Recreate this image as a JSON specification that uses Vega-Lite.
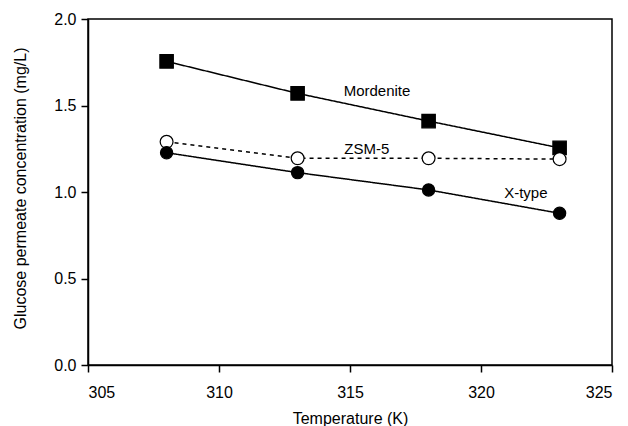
{
  "$schema": "https://vega.github.io/schema/vega-lite/v6.json",
  "width": 524,
  "height": 346,
  "autosize": "none",
  "padding": {"left": 88, "top": 19, "right": 16, "bottom": 61},
  "background": "white",
  "config": {
    "view": {"stroke": "black", "strokeWidth": 1.5},
    "font": "Liberation Sans",
    "axis": {
      "grid": false,
      "domainColor": "black",
      "domainWidth": 1.5,
      "tickColor": "black",
      "tickWidth": 1.5,
      "tickSize": 7,
      "labelFont": "Liberation Sans",
      "labelFontSize": 16,
      "labelColor": "black",
      "titleFont": "Liberation Sans",
      "titleFontSize": 16,
      "titleFontWeight": "normal",
      "titleColor": "black"
    }
  },
  "datasets": {
    "pts": [
      {"series": "Mordenite", "T": 308, "c": 1.755},
      {"series": "Mordenite", "T": 313, "c": 1.57},
      {"series": "Mordenite", "T": 318, "c": 1.41},
      {"series": "Mordenite", "T": 323, "c": 1.255},
      {"series": "ZSM-5", "T": 308, "c": 1.29},
      {"series": "ZSM-5", "T": 313, "c": 1.195},
      {"series": "ZSM-5", "T": 318, "c": 1.195},
      {"series": "ZSM-5", "T": 323, "c": 1.19},
      {"series": "X-type", "T": 308, "c": 1.227},
      {"series": "X-type", "T": 313, "c": 1.112},
      {"series": "X-type", "T": 318, "c": 1.012},
      {"series": "X-type", "T": 323, "c": 0.877}
    ],
    "labels": [
      {"label": "Mordenite", "T": 316.03, "c": 1.584},
      {"label": "ZSM-5", "T": 315.64, "c": 1.251},
      {"label": "X-type", "T": 321.71, "c": 0.994}
    ]
  },
  "layer": [
    {
      "data": {"name": "pts"},
      "mark": {"type": "line", "color": "black", "strokeWidth": 1.5},
      "encoding": {
        "x": {"field": "T", "type": "quantitative",
          "scale": {"domain": [305, 325], "nice": false, "zero": false},
          "axis": {"title": "Temperature (K)", "values": [305, 310, 315, 320, 325], "labelPadding": 12, "titleY": 58, "titleBaseline": "alphabetic"}},
        "y": {"field": "c", "type": "quantitative",
          "scale": {"domain": [0, 2], "nice": false},
          "axis": {"title": "Glucose permeate concentration (mg/L)", "values": [0, 0.5, 1, 1.5, 2], "format": ".1f", "labelPadding": 5, "titleX": -68, "titleY": 169, "titleBaseline": "middle"}},
        "detail": {"field": "series"},
        "strokeDash": {"field": "series", "type": "nominal",
          "scale": {"domain": ["Mordenite", "ZSM-5", "X-type"], "range": [[1, 0], [4, 4], [1, 0]]},
          "legend": null}
      }
    },
    {
      "data": {"name": "pts"},
      "mark": {"type": "point", "filled": true, "stroke": "black", "strokeWidth": 1.2, "opacity": 1},
      "encoding": {
        "x": {"field": "T", "type": "quantitative"},
        "y": {"field": "c", "type": "quantitative"},
        "shape": {"field": "series", "type": "nominal",
          "scale": {"domain": ["Mordenite", "ZSM-5", "X-type"], "range": ["square", "circle", "circle"]},
          "legend": null},
        "fill": {"field": "series", "type": "nominal",
          "scale": {"domain": ["Mordenite", "ZSM-5", "X-type"], "range": ["black", "white", "black"]},
          "legend": null},
        "size": {"field": "series", "type": "nominal",
          "scale": {"domain": ["Mordenite", "ZSM-5", "X-type"], "range": [180, 150, 150]},
          "legend": null}
      }
    },
    {
      "data": {"name": "labels"},
      "mark": {"type": "text", "font": "Liberation Sans", "fontSize": 15, "color": "black", "baseline": "middle", "align": "center"},
      "encoding": {
        "x": {"field": "T", "type": "quantitative"},
        "y": {"field": "c", "type": "quantitative"},
        "text": {"field": "label"}
      }
    }
  ]
}
